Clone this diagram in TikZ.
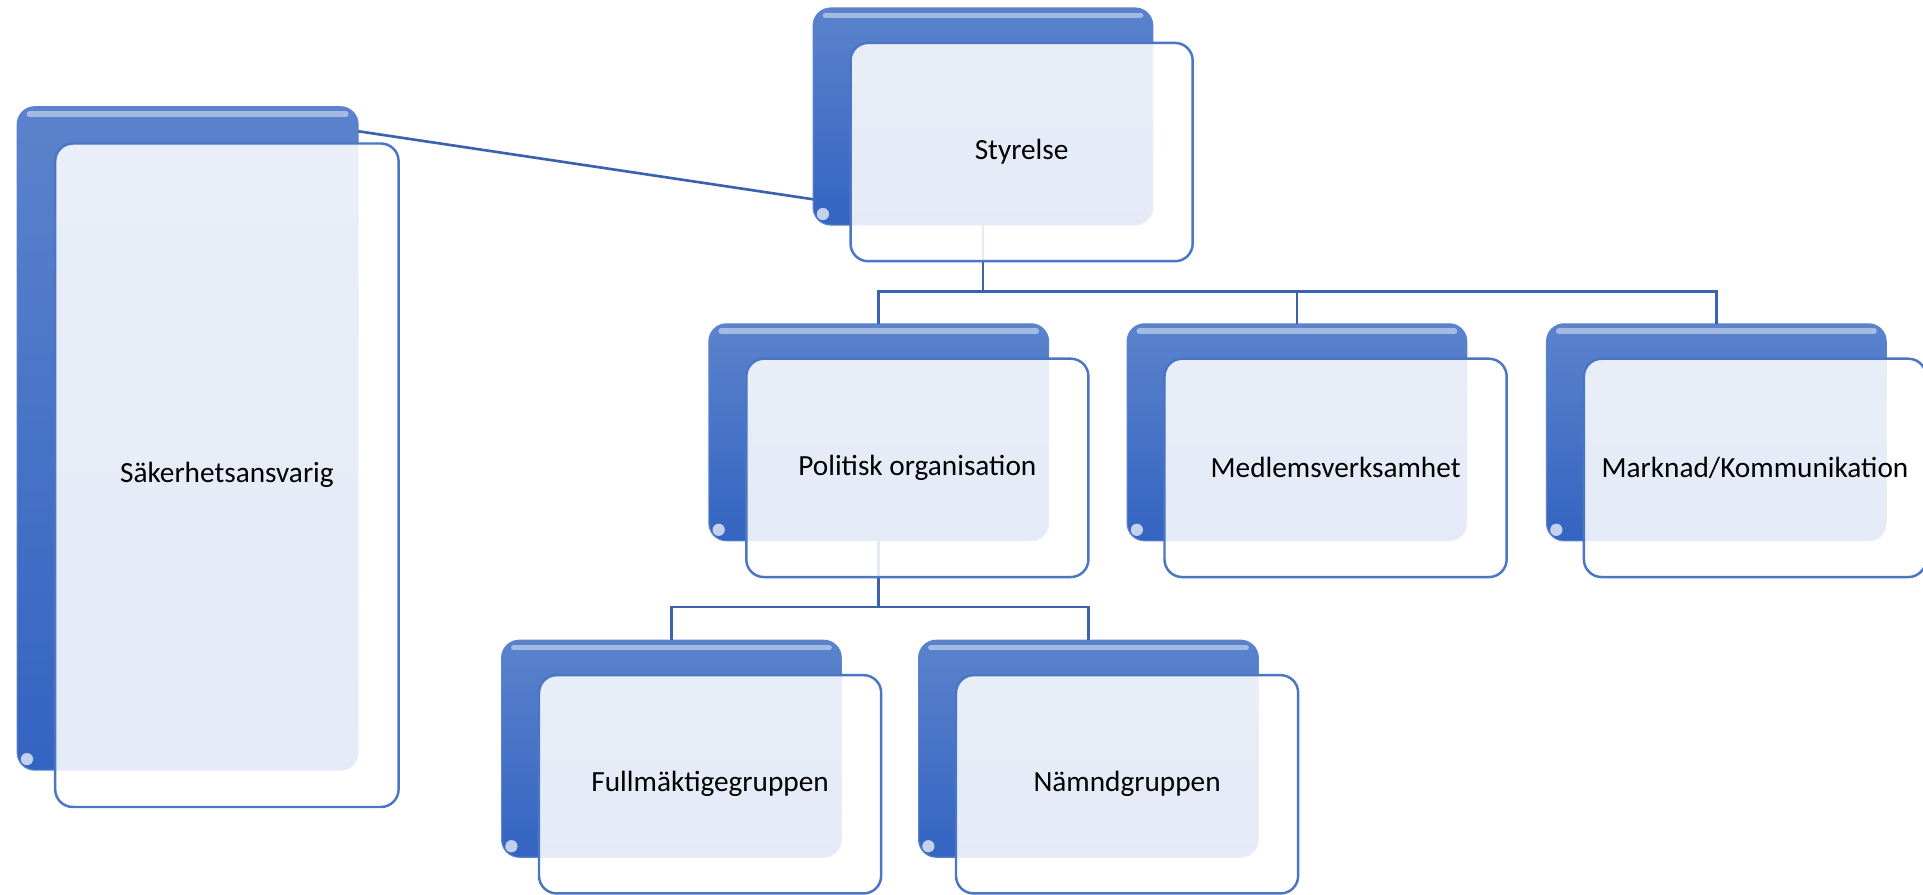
\documentclass[tikz,border=0pt]{standalone}
\usepackage{fontspec}
\setmainfont{Carlito}
\usepackage{tikz}
\newcommand{\un}{0.3477pt}
\definecolor{bktop}{HTML}{5B83CC}
\definecolor{bkbot}{HTML}{3464C2}
\definecolor{frline}{HTML}{4A76C4}
\definecolor{lkblue}{HTML}{3B62AE}
\tikzset{
  backbox/.style={rounded corners=5pt, top color=bktop, bottom color=bkbot,
    draw=bkbot!80!white, line width=0.3pt, inner sep=0pt, outer sep=0pt,
    minimum width=277*\un, minimum height=177*\un,
    path picture={
      \draw[white, opacity=0.45, line width=1.6pt, line cap=round]
        ([shift={(10,6)}]path picture bounding box.north west) --
        ([shift={(-10,6)}]path picture bounding box.north east);
      \fill[white, opacity=0.7]
        ([shift={(8,-9)}]path picture bounding box.south west) circle (5);}},
  frontbox/.style={rounded corners=5pt, fill=white, fill opacity=0.87,
    text opacity=1, draw=frline, line width=0.7pt, inner sep=0pt, outer sep=0pt,
    minimum width=279*\un, minimum height=178*\un,
    font=\fontsize{8.3}{10}\selectfont},
  link/.style={draw=lkblue, line width=0.75pt}
}

\begin{document}
\begin{tikzpicture}[x=\un, y=-\un]
  \useasboundingbox (0,0) rectangle (1568,729);
  % back boxes
  \node[backbox, minimum height=541*\un, minimum width=278*\un] (sakB) at ( 153.0,357.5) {};
  \node[backbox] (styB) at ( 801.5, 95.0) {};
  \node[backbox] (polB) at ( 716.5,352.5) {};
  \node[backbox] (medB) at (1057.5,352.5) {};
  \node[backbox] (marB) at (1399.5,352.5) {};
  \node[backbox] (fulB) at ( 547.5,610.5) {};
  \node[backbox] (namB) at ( 887.5,610.5) {};
  % connectors
  \coordinate (bus1) at ([shift={(0,54)}]styB.south);
  \coordinate (bus2) at ([shift={(0,54)}]polB.south);
  \draw[link] (styB.south) -- (bus1);
  \draw[link] (bus1) -| (polB.north);
  \draw[link] (bus1) -| (medB.north);
  \draw[link] (bus1) -| (marB.north);
  \draw[link] (polB.south) -- (bus2);
  \draw[link] (bus2) -| (fulB.north);
  \draw[link] (bus2) -| (namB.north);
  \draw[link] ([shift={(0,20)}]sakB.north east) -- ([shift={(0,-21)}]styB.south west);
  % front boxes
  \node[frontbox, minimum height=541*\un, minimum width=280*\un] (sak) at ([shift={(32,30)}]sakB.center) {Säkerhetsansvarig};
  \node[frontbox] (sty) at ([shift={(31.5,29)}]styB.center) {Styrelse};
  \node[frontbox] (pol) at ([shift={(31.5,29)}]polB.center) {Politisk organisation};
  \node[frontbox] (med) at ([shift={(31.5,29)}]medB.center) {Medlemsverksamhet};
  \node[frontbox] (mar) at ([shift={(31.5,29)}]marB.center) {Marknad/Kommunikation};
  \node[frontbox] (ful) at ([shift={(31.5,29)}]fulB.center) {Fullmäktigegruppen};
  \node[frontbox] (nam) at ([shift={(31.5,29)}]namB.center) {Nämndgruppen};
\end{tikzpicture}
\end{document}
